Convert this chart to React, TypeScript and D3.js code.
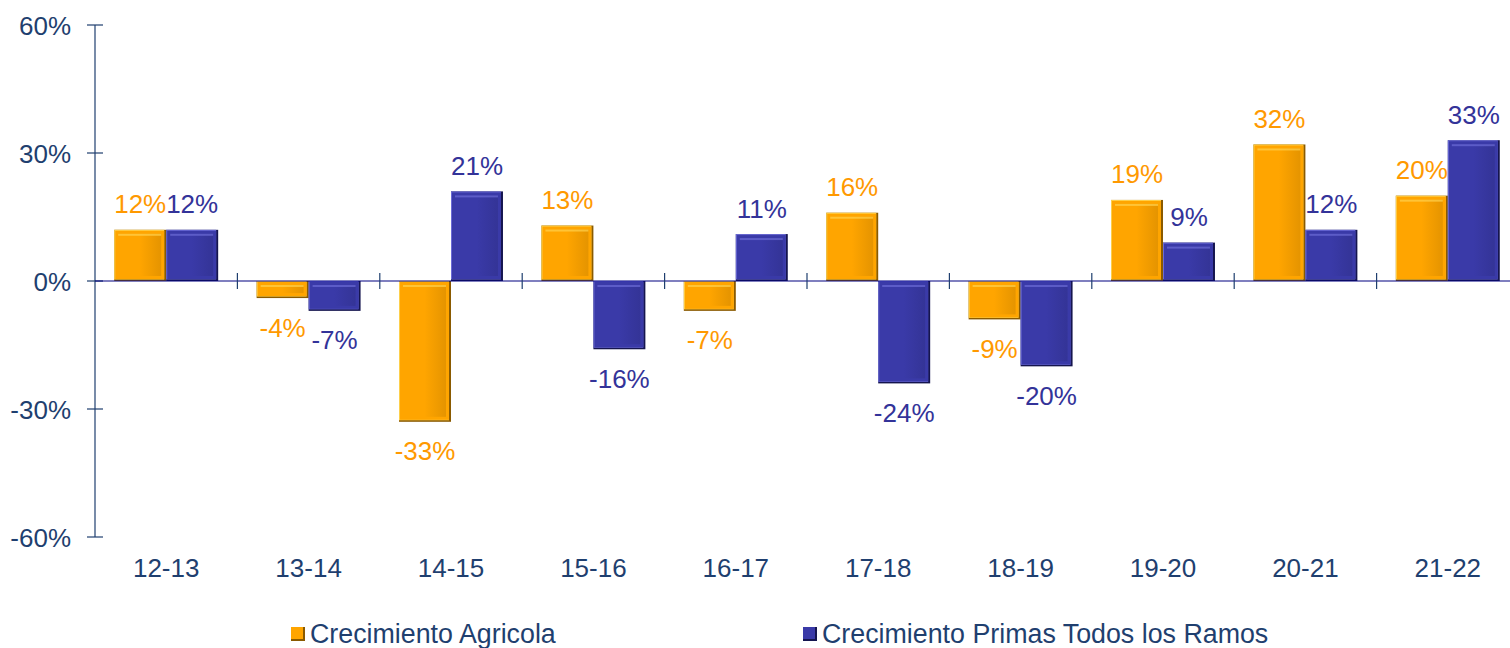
import React from "react";
import * as d3 from "d3";

// periods on the x axis
const periods = ["12-13", "13-14", "14-15", "15-16", "16-17", "17-18", "18-19", "19-20", "20-21", "21-22"];
// growth values in percent
const agricola = [12, -4, -33, 13, -7, 16, -9, 19, 32, 20];
const primas = [12, -7, 21, -16, 11, -24, -20, 9, 12, 33];
const yTicks = [60, 30, 0, -30, -60];
const seriesNames = ["Crecimiento Agricola", "Crecimiento Primas Todos los Ramos"];

const W = 1510;
const H = 648;
const left = 95;
const right = 1519;
const top = 25;
const bottom = 537;

const axisColor = "#1F3F6F";
const font = "Liberation Sans, Arial, sans-serif";
const fs = 26;

const series = [
  { key: "a", values: agricola, fill: "#FFA500", dark: "#8A5A00", light: "#FFD24D", text: "#FF9900" },
  { key: "b", values: primas, fill: "#3A3AA8", dark: "#15154F", light: "#6B6BD6", text: "#333399" },
];

const App = () => {
  const x = d3.scaleBand().domain(periods).range([left, right]).paddingInner(0.27).paddingOuter(0.135);
  const x0 = d3.scaleBand().domain(periods).range([left, right]);
  const sub = d3.scaleBand().domain(["a", "b"]).range([0, x.bandwidth()]);
  const y = d3.scaleLinear().domain([-60, 60]).range([bottom, top]);
  const bw = sub.bandwidth();

  return (
    <svg width={W} height={H} style={{ position: "absolute", left: 0, top: 0 }} fontFamily={font}>
      <defs>
        {series.map((s) => (
          <linearGradient key={s.key} id={`grad-${s.key}`} x1="0" x2="1" y1="0" y2="0">
            <stop offset="0" stopColor={s.fill} />
            <stop offset="0.5" stopColor={s.fill} />
            <stop offset="1" stopColor={d3.color(s.fill)!.darker(0.3).toString()} />
          </linearGradient>
        ))}
      </defs>

      {/* y axis */}
      <line x1={left} x2={left} y1={top} y2={bottom} stroke={axisColor} strokeWidth={1.2} />
      {yTicks.map((t) => (
        <g key={t}>
          <line x1={left - 8} x2={left + 8} y1={y(t)} y2={y(t)} stroke={axisColor} strokeWidth={1.2} />
          <text x={71} y={y(t) + 9.5} textAnchor="end" fontSize={fs} fill={axisColor}>
            {t}%
          </text>
        </g>
      ))}

      {/* bars */}
      {periods.map((p, i) => (
        <g key={p}>
          {series.map((s) => {
            const v = s.values[i];
            const bx = x(p)! + sub(s.key)!;
            const y1 = Math.min(y(v), y(0));
            const h = Math.abs(y(v) - y(0));
            const inset = Math.min(4, h / 3);
            return (
              <g key={s.key}>
                <rect x={bx} y={y1} width={bw} height={h} fill={s.dark} />
                <rect x={bx} y={y1} width={bw - 2} height={h - 1.5} fill={s.light} />
                <rect x={bx + 1} y={y1 + 1} width={bw - 3} height={h - 3} fill={s.fill} />
                {h > 8 && (
                  <rect
                    x={bx + inset}
                    y={y1 + inset}
                    width={bw - inset * 2 - 1}
                    height={h - inset * 2 - 1}
                    fill={`url(#grad-${s.key})`}
                  />
                )}
                {h > 8 && (
                  <rect x={bx + inset} y={y1 + inset} width={bw - inset * 2 - 1} height={2} fill={s.light} opacity={0.7} />
                )}
                <text
                  x={bx + bw / 2}
                  y={v >= 0 ? y(v) - 16.5 : y(v) + 38.5}
                  textAnchor="middle"
                  fontSize={fs}
                  fill={s.text}
                >
                  {v}%
                </text>
              </g>
            );
          })}
        </g>
      ))}

      {/* zero line and category ticks */}
      <line x1={left} x2={W} y1={y(0)} y2={y(0)} stroke="#000080" strokeWidth={1.2} />
      {periods.slice(1).map((p) => (
        <line key={p} x1={x0(p)!} x2={x0(p)!} y1={y(0) - 8} y2={y(0) + 8} stroke={axisColor} strokeWidth={1.2} />
      ))}
      {periods.map((p) => (
        <text key={p} x={x0(p)! + x0.bandwidth() / 2} y={577} textAnchor="middle" fontSize={fs} fill={axisColor}>
          {p}
        </text>
      ))}

      {/* legend */}
      {seriesNames.map((n, i) => {
        const lx = i === 0 ? 291 : 803;
        const s = series[i];
        return (
          <g key={n}>
            <rect x={lx} y={627} width={14} height={14} fill={s.dark} />
            <rect x={lx} y={627} width={12} height={12} fill={s.fill} />
            <text x={lx + 19} y={643} fontSize={26.8} fill={axisColor}>
              {n}
            </text>
          </g>
        );
      })}
    </svg>
  );
};

export default App;
